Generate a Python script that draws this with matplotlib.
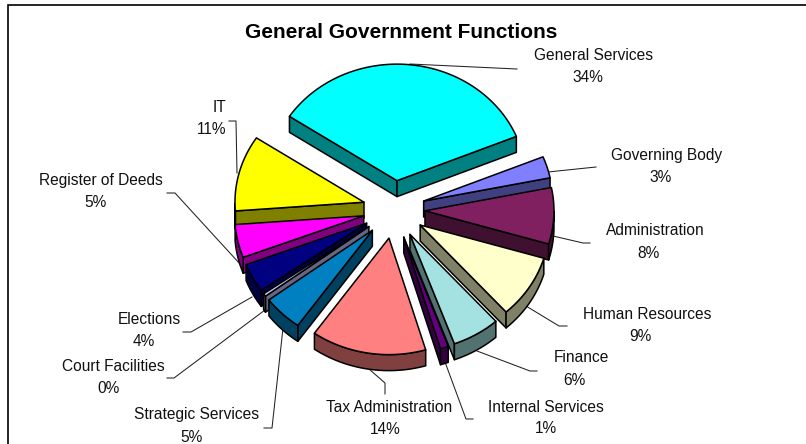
import numpy as np
import matplotlib
matplotlib.use("Agg")
import matplotlib.pyplot as plt
from matplotlib.patches import Polygon

categories = ["General Services", "Governing Body", "Administration", "Human Resources",
              "Finance", "Internal Services", "Tax Administration", "Strategic Services",
              "Court Facilities", "Elections", "Register of Deeds", "IT"]
values = [34.49, 3.0, 7.8, 8.8, 6.0, 1.0, 14.4, 5.0, 0.4, 4.0, 4.6, 10.5]
top_colors = ["#00FFFF", "#8080FF", "#802060", "#FFFFCC", "#A4E2E2", "#660080",
              "#FF8080", "#0080C0", "#CCCCFF", "#000080", "#FF00FF", "#FFFF00"]
side_colors = ["#008080", "#404080", "#401030", "#808066", "#527171", "#330040",
               "#804040", "#004060", "#666680", "#000040", "#800080", "#808000"]

title = "General Government Functions"
label_pos = [(594, 55), (667, 155), (655, 230), (647, 314), (581, 357), (546, 407),
             (389, 407), (197, 414), (113, 366), (149, 319), (101, 180), (220, 107)]
pct_pos = [(588, 78), (661, 177), (648, 253), (640, 336), (574, 380), (546, 428),
           (385, 429), (191, 437), (108, 388), (144, 341), (95, 202), (212, 129)]
leaders = [
    [(410, 64), (517, 69)],
    [(548, 172), (596, 167)],
    [(553, 236), (583, 243), (590, 243)],
    [(526, 306), (559, 326), (567, 326)],
    [(477, 351), (530, 371), (537, 371)],
    [(445, 362), (466, 419), (473, 419)],
    [(369, 369), (385, 383), (385, 394)],
    [(283, 328), (272, 428), (264, 428)],
    [(265, 310), (174, 378), (167, 378)],
    [(252, 297), (191, 332), (183, 332)],
    [(240, 264), (175, 193), (167, 193)],
    [(237, 173), (236, 121), (229, 121)],
]

CX, CY = 394.0, 209.5
RX, RY = 129.0, 116.5
EX, EY = 31.0, 29.0
DEPTH = 16.0
START = 146.5

plt.rcParams["font.family"] = ["Liberation Sans", "DejaVu Sans"]
fig = plt.figure(figsize=(8.06, 4.44), dpi=100)
ax = fig.add_axes([0, 0, 1, 1])
ax.set_xlim(0, 806)
ax.set_ylim(444, 0)
ax.axis("off")

vals = np.array(values)
sweep = vals / vals.sum() * 360.0
hi = START - np.concatenate([[0], np.cumsum(sweep)[:-1]])
lo = hi - sweep
mid = (hi + lo) / 2
order = np.argsort(-np.sin(np.radians(mid)))
edge = dict(edgecolor="black", linewidth=1.1, joinstyle="round")


def pt(ax0, ay0, deg):
    r = np.radians(deg)
    return np.column_stack([ax0 + RX * np.cos(r), ay0 - RY * np.sin(r)])


for z, i in enumerate(order):
    m = np.radians(mid[i])
    x0 = CX + EX * np.cos(m)
    y0 = CY - EY * np.sin(m)
    base = 2 + z * 2
    down = np.array([0, DEPTH])
    apex = np.array([x0, y0])
    # radial side faces
    for deg, vis in ((hi[i], np.cos(np.radians(hi[i])) < 0), (lo[i], np.cos(np.radians(lo[i])) > 0)):
        if vis:
            p = pt(x0, y0, deg)[0]
            ax.add_patch(Polygon([apex, p, p + down, apex + down], closed=True,
                                 facecolor=side_colors[i], zorder=base, **edge))
    # outer curved face, only the part turned towards the viewer
    th = np.linspace(hi[i], lo[i], 80)
    th = th[np.sin(np.radians(th)) < 0]
    if th.size > 1:
        arc = pt(x0, y0, th)
        ax.add_patch(Polygon(np.vstack([arc, (arc + down)[::-1]]), closed=True,
                             facecolor=side_colors[i], zorder=base, **edge))
    # top face
    th = np.linspace(hi[i], lo[i], 80)
    ax.add_patch(Polygon(np.vstack([apex, pt(x0, y0, th)]), closed=True,
                         facecolor=top_colors[i], zorder=base + 1, **edge))

pct = vals / vals.sum() * 100
for i, name in enumerate(categories):
    ax.text(*label_pos[i], name, ha="center", va="center", fontsize=11.2, color="#111111", zorder=60)
    ax.text(*pct_pos[i], f"{pct[i]:.0f}%", ha="center", va="center", fontsize=11.2, color="#111111", zorder=60)
    xs, ys = zip(*leaders[i])
    ax.plot(xs, ys, color="#222222", lw=0.75, zorder=1)

ax.text(401, 32, title, ha="center", va="center", fontsize=15, fontweight="bold", color="black", zorder=60)

# chart frame, open to the right and bottom edges of the picture
ax.plot([7.5, 7.5, 806], [444, 5, 5], color="black", lw=1.2, solid_joinstyle="miter", zorder=70)

fig.savefig("out.png", dpi=100)
